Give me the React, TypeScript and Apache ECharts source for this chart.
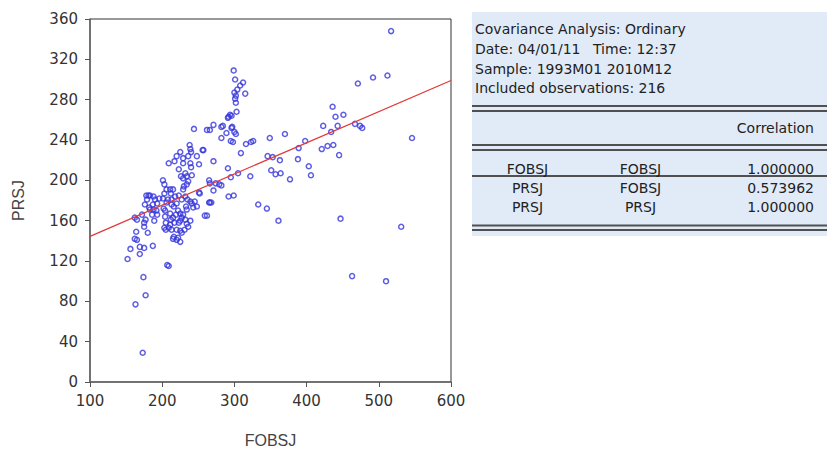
import React, { useEffect, useRef } from "react";
import * as echarts from "echarts";

// FOBSJ (x) and PRSJ (y), monthly observations 1993M01–2010M12
const fobsj = [
  517, 299, 301, 312, 308, 304, 300, 315, 302, 301,
  302, 303, 294, 292, 296, 291, 512, 492, 471, 436,
  440, 451, 423, 443, 434, 467, 474, 477, 546, 398,
  389, 421, 429, 437, 445, 388, 403, 406, 377, 370,
  349, 346, 353, 363, 351, 357, 364, 323, 326, 316,
  309, 322, 305, 295, 291, 299, 292, 333, 345, 361,
  447, 531, 463, 510, 297, 300, 302, 295, 298, 284,
  282, 271, 266, 262, 282, 271, 244, 256, 248, 251,
  265, 266, 271, 279, 282, 265, 268, 259, 251, 289,
  296, 274, 252, 152, 156, 162, 165, 164, 169, 169,
  175, 187, 163, 174, 177, 173, 207, 209, 162, 165,
  172, 175, 177, 175, 180, 176, 178, 181, 183, 188,
  190, 187, 188, 192, 183, 186, 189, 201, 203, 206,
  203, 201, 202, 204, 209, 211, 212, 215, 208, 206,
  204, 205, 203, 205, 209, 212, 215, 215, 220, 220,
  219, 222, 223, 225, 225, 225, 229, 227, 232, 234,
  231, 239, 220, 225, 229, 229, 223, 226, 229, 232,
  234, 223, 229, 230, 239, 240, 238, 239, 240, 236,
  241, 235, 239, 241, 243, 233, 234, 213, 216, 211,
  218, 227, 232, 234, 236, 220, 227, 179, 182, 193,
  196, 193, 217, 213, 217, 211, 213, 216, 222, 225,
  236, 245, 248, 262, 266, 257,
];

const prsj = [
  348, 309, 300, 297, 294, 290, 287, 286, 284, 281,
  277, 268, 265, 263, 264, 262, 304, 302, 296, 273,
  263, 265, 254, 254, 248, 256, 254, 252, 242, 239,
  232, 231, 234, 235, 225, 221, 214, 205, 201, 246,
  242, 224, 223, 220, 210, 206, 207, 238, 239, 236,
  227, 204, 207, 203, 212, 185, 184, 176, 172, 160,
  162, 154, 105, 100, 253, 248, 246, 239, 238, 254,
  253, 255, 250, 250, 242, 219, 251, 230, 224, 216,
  200, 197, 190, 196, 195, 178, 178, 165, 188, 247,
  252, 197, 187, 122, 132, 142, 141, 149, 134, 127,
  133, 135, 77, 104, 86, 29, 116, 115, 163, 161,
  166, 158, 161, 154, 148, 176, 185, 185, 185, 184,
  181, 176, 171, 170, 171, 166, 160, 200, 196, 191,
  187, 182, 172, 170, 217, 191, 187, 191, 181, 178,
  164, 158, 153, 151, 153, 161, 163, 142, 141, 177,
  166, 170, 158, 160, 150, 167, 166, 163, 161, 157,
  151, 160, 224, 228, 222, 217, 211, 204, 202, 207,
  204, 185, 191, 194, 217, 213, 235, 231, 228, 224,
  205, 181, 179, 177, 173, 174, 171, 181, 174, 167,
  184, 181, 184, 196, 199, 151, 148, 181, 173, 177,
  182, 166, 219, 176, 158, 156, 151, 144, 143, 139,
  154, 179, 174, 165, 178, 230,
];

// Fitted regression line endpoints
const fitX = [100, 600];
const fitY = [144.5, 299];

// Axis ranges: [min, max, interval]
const xRange = [100, 600, 100];
const yRange = [0, 360, 40];

// Covariance analysis output
const headerLines = [
  "Covariance Analysis: Ordinary",
  "Date: 04/01/11",
  "Sample: 1993M01 2010M12",
  "Included observations: 216",
];
const timeLabel = "Time: 12:37";
const statHeader = "Correlation";
const rowVarA = ["FOBSJ", "PRSJ", "PRSJ"];
const rowVarB = ["FOBSJ", "FOBSJ", "PRSJ"];
const correlations = [1.0, 0.573962, 1.0];

const FONT = "DejaVu Sans";

export default function App() {
  const ref = useRef<HTMLDivElement>(null);

  useEffect(() => {
    if (!ref.current) return;
    const chart = echarts.init(ref.current, undefined, { renderer: "svg" });

    const points = fobsj.map((x, i) => [x, prsj[i]]);
    const fitLine = fitX.map((x, i) => [x, fitY[i]]);

    const panelLeft = 472;
    const panelRight = 827;
    const textStyle = (extra: any) => ({
      fill: "#222",
      fontSize: 14,
      fontFamily: FONT,
      verticalAlign: "middle",
      ...extra,
    });
    const hLine = (y: number) => ({
      type: "line",
      shape: { x1: panelLeft, y1: y, x2: panelRight, y2: y },
      style: { stroke: "#505050", lineWidth: 1.8 },
      silent: true,
    });

    const graphic: any[] = [
      {
        type: "rect",
        shape: { x: panelLeft, y: 12, width: panelRight - panelLeft, height: 224 },
        style: { fill: "#e1ebf8" },
        silent: true,
      },
      hLine(106),
      hLine(111),
      hLine(145),
      hLine(150),
      hLine(176),
      hLine(225.5),
      hLine(230),
    ];
    const headerY = [29, 48.5, 68.5, 88];
    headerLines.forEach((t, i) => {
      graphic.push({ type: "text", x: 475, y: headerY[i], style: textStyle({ text: t }) });
    });
    graphic.push({ type: "text", x: 593, y: headerY[1], style: textStyle({ text: timeLabel }) });
    graphic.push({
      type: "text",
      x: 814,
      y: 128,
      style: textStyle({ text: statHeader, align: "right" }),
    });
    const rowY = [168.5, 187.5, 206.7];
    rowVarA.forEach((v, i) => {
      graphic.push({ type: "text", x: 527.5, y: rowY[i], style: textStyle({ text: v, align: "center" }) });
      graphic.push({
        type: "text",
        x: 640.5,
        y: rowY[i],
        style: textStyle({ text: rowVarB[i], align: "center" }),
      });
      graphic.push({
        type: "text",
        x: 814,
        y: rowY[i],
        style: textStyle({ text: correlations[i].toFixed(6), align: "right" }),
      });
    });

    const axisCommon = {
      type: "value" as const,
      splitLine: { show: false },
      axisLine: { show: true, onZero: false, lineStyle: { color: "#666", width: 1.5 } },
      axisTick: { show: true, length: 5, lineStyle: { color: "#555" } },
      nameTextStyle: { fontFamily: "Liberation Sans", fontSize: 16, color: "#444" },
      nameLocation: "middle" as const,
    };

    chart.setOption({
      animation: false,
      backgroundColor: "#fff",
      grid: {
        left: 90,
        top: 19,
        right: 376,
        bottom: 68,
        show: true,
        borderColor: "#333",
        borderWidth: 1,
        backgroundColor: "transparent",
        containLabel: false,
        outerBoundsMode: "none",
      },
      xAxis: {
        ...axisCommon,
        min: xRange[0],
        max: xRange[1],
        interval: xRange[2],
        name: "FOBSJ",
        nameGap: 50,
        axisLabel: { color: "#333", fontSize: 15, fontFamily: FONT, margin: 11 },
      },
      yAxis: {
        ...axisCommon,
        min: yRange[0],
        max: yRange[1],
        interval: yRange[2],
        name: "PRSJ",
        nameGap: 64,
        nameRotate: 90,
        axisLabel: { color: "#333", fontSize: 15, fontFamily: FONT, margin: 12 },
      },
      series: [
        {
          type: "scatter",
          data: points,
          symbol: "circle",
          symbolSize: 5,
          itemStyle: { color: "rgba(0,0,0,0)", borderColor: "#3434dc", borderWidth: 1.5 },
          emphasis: { disabled: true },
          silent: true,
        },
        {
          type: "line",
          data: fitLine,
          symbol: "none",
          lineStyle: { color: "#e03a3a", width: 1.3 },
          silent: true,
          z: 3,
        },
      ],
      graphic,
    });

    return () => chart.dispose();
  }, []);

  return (
    <div
      ref={ref}
      style={{ position: "fixed", left: 0, top: 0, width: 827, height: 450 }}
    />
  );
}
